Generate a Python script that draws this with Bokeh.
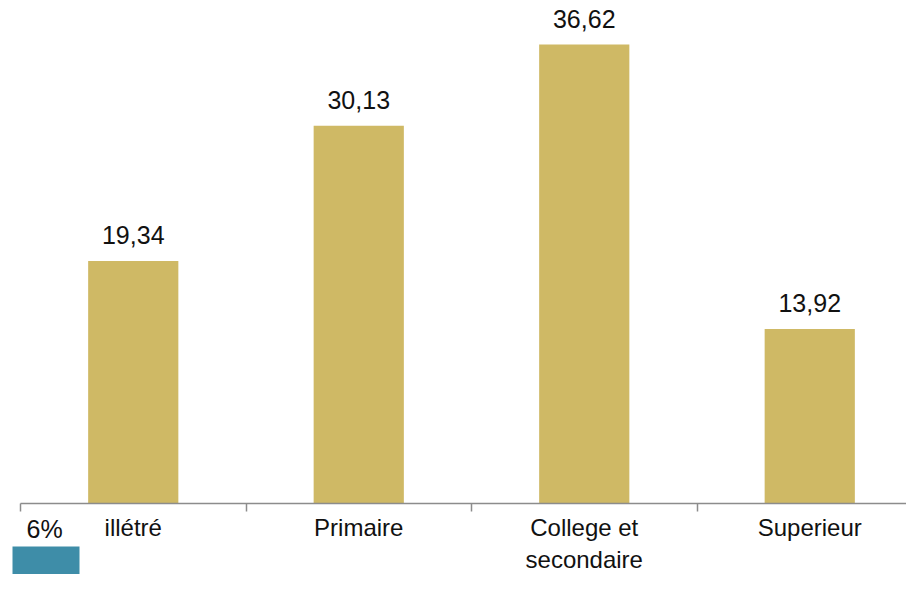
from bokeh.plotting import figure
from bokeh.models import Range1d, LinearAxis, FixedTicker
from bokeh.embed import file_html
from bokeh.resources import INLINE
from bokeh.core.properties import value

categories = ["illétré", "Primaire", "College et\nsecondaire", "Superieur"]
values = [19.34, 30.13, 36.62, 13.92]
value_labels = ["19,34", "30,13", "36,62", "13,92"]
side_text = ["6%"]

BAR = "#CFB965"
TEAL = "#3E8DA8"
AXIS = "#8c8c8c"
TXT = "#111111"
FONT = "Liberation Sans"

W, H = 906, 574
left_px = 20          # x of the first category boundary
axis_px = 503         # y of the value axis baseline
top_bar_px = 44       # y of the tallest bar's top
slot = 225.5          # px per category
ppu = (axis_px - top_bar_px) / max(values)

x_start = -left_px / slot
x_end = (W - left_px) / slot
y_end = axis_px / ppu
y_start = -(H - axis_px) / ppu

p = figure(width=W, height=H,
           x_range=Range1d(x_start, x_end), y_range=Range1d(y_start, y_end),
           x_axis_type=None, y_axis_type=None,
           output_backend="svg", toolbar_location=None, min_border=0)
p.outline_line_color = None
p.background_fill_color = "white"
p.border_fill_color = "white"

xs = [i + 0.5 for i in range(len(categories))]

p.vbar(x=xs, top=values, bottom=0, width=0.4, fill_color=BAR, line_color=None)

p.text(x=xs, y=values, text=value_labels, text_align="center",
       text_baseline="alphabetic", y_offset=-26,
       text_font=value(FONT), text_font_size="25px", text_color=TXT)

# partial element at lower left
p.quad(left=[-8 / slot], right=[59 / slot], top=[-43 / ppu], bottom=[y_start - 1],
       fill_color=TEAL, line_color=None)
p.text(x=[6 / slot], y=[-25 / ppu], text=side_text, text_align="left",
       text_baseline="alphabetic", text_font=value(FONT),
       text_font_size="25px", text_color=TXT)

n = len(categories)
ax_t = LinearAxis(fixed_location=0, bounds=(0, n),
                  ticker=FixedTicker(ticks=list(range(n + 1)), minor_ticks=[]),
                  major_label_overrides={i: "" for i in range(n + 1)},
                  major_label_text_font_size="0px",
                  axis_line_color=AXIS, axis_line_width=1.5,
                  major_tick_line_color=AXIS, major_tick_line_width=1.5,
                  major_tick_in=0, major_tick_out=8,
                  minor_tick_line_color=None)
p.add_layout(ax_t, "below")

ax_l = LinearAxis(fixed_location=0,
                  ticker=FixedTicker(ticks=xs, minor_ticks=[]),
                  major_label_overrides={x: c for x, c in zip(xs, categories)},
                  axis_line_color=None, major_tick_line_color=None,
                  minor_tick_line_color=None, major_tick_in=0, major_tick_out=0,
                  major_label_standoff=10,
                  major_label_text_font=FONT, major_label_text_font_size="24px",
                  major_label_text_color=TXT)
p.add_layout(ax_l, "below")

open("out.html", "w").write(file_html(p, INLINE))
